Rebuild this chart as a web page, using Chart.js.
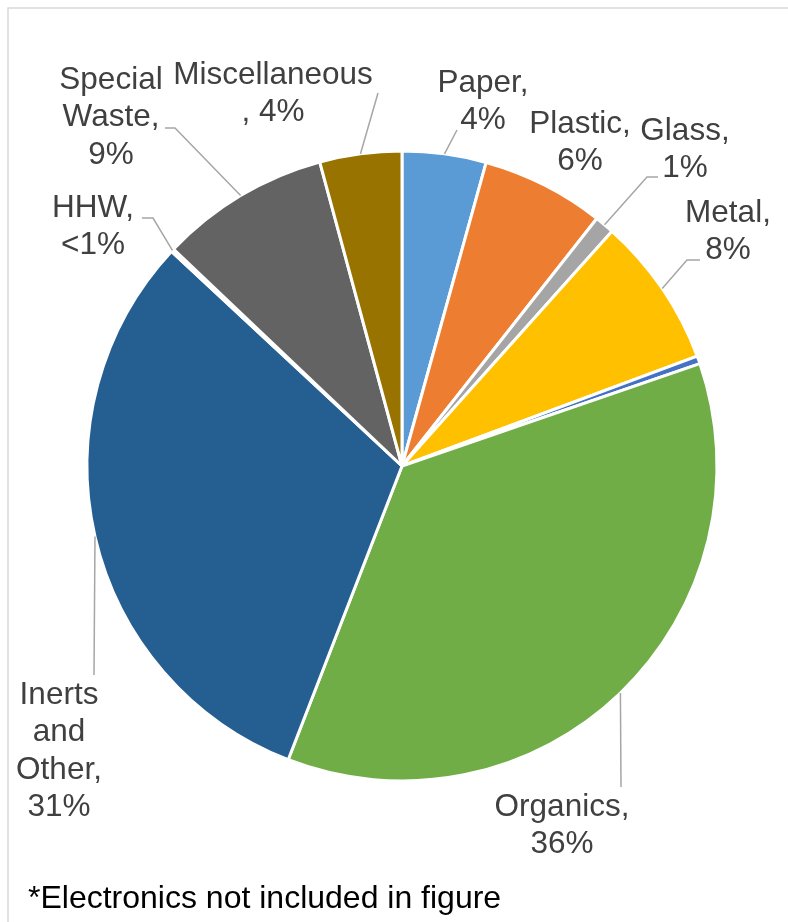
<!DOCTYPE html>
<html>
<head>
<meta charset="utf-8">
<script src="https://cdn.jsdelivr.net/npm/chart.js@4/dist/chart.umd.min.js"></script>
<style>
  html, body { margin: 0; padding: 0; background: #fff; }
  #wrap { width: 788px; height: 922px; position: relative; }
</style>
</head>
<body>
<div id="wrap"><canvas id="wasteChart"></canvas></div>
<script>
// data (percent of total)
var categories = ['Paper', 'Plastic', 'Glass', 'Metal', '', 'Organics', 'Inerts and Other', 'HHW', 'Special Waste', 'Miscellaneous'];
var values = [4.3, 6.3, 1.0, 7.7, 0.4, 36.1, 31.0, 0.15, 8.7, 4.2];
var labelLines = [
  ['Paper,', '4%'],
  ['Plastic,', '6%'],
  ['Glass,', '1%'],
  ['Metal,', '8%'],
  [],
  ['Organics,', '36%'],
  ['Inerts', 'and', 'Other,', '31%'],
  ['HHW,', '<1%'],
  ['Special', 'Waste,', '9%'],
  ['Miscellaneous', ', 4%']
];
var sliceColors = ['#5B9BD5', '#ED7D31', '#A5A5A5', '#FFC000', '#4472C4', '#70AD47', '#255E91', '#9E480E', '#636363', '#997300'];
var footnote = '*Electronics not included in figure';

// label placement, offsets from the pie centre (text x, first line y, leader points)
var labelLayout = [
  { x: 81, y: -383, lead: [[55, -336]] },
  { x: 178, y: -342, lead: null },
  { x: 283, y: -335, lead: [[245, -289], [256, -289]] },
  { x: 326, y: -253, lead: [[285, -206], [298, -206]] },
  null,
  { x: 160, y: 341, lead: [[219, 321]] },
  { x: -343, y: 229, lead: [[-308, 209]] },
  { x: -309, y: -258, lead: [[-249, -248], [-260, -248]] },
  { x: -291, y: -386, lead: [[-227, -338], [-237, -338]] },
  { x: -129, y: -391, lead: [[-24, -373]] }
];

var frameAndLabels = {
  id: 'frameAndLabels',
  beforeDraw: function (chart) {
    var ctx = chart.ctx;
    ctx.save();
    ctx.strokeStyle = '#D9D9D9';
    ctx.lineWidth = 1.5;
    ctx.beginPath();
    ctx.moveTo(8, chart.height + 2);
    ctx.lineTo(8, 8);
    ctx.lineTo(chart.width + 2, 8);
    ctx.stroke();
    ctx.restore();
  },
  afterDatasetsDraw: function (chart) {
    var ctx = chart.ctx;
    var meta = chart.getDatasetMeta(0);
    ctx.save();
    meta.data.forEach(function (arc, i) {
      var lay = labelLayout[i];
      if (!lay) return;
      var cx = arc.x, cy = arc.y;
      if (lay.lead) {
        var mid = (arc.startAngle + arc.endAngle) / 2;
        var r = arc.outerRadius;
        ctx.strokeStyle = '#A6A6A6';
        ctx.lineWidth = 1.5;
        ctx.beginPath();
        ctx.moveTo(cx + Math.cos(mid) * r, cy + Math.sin(mid) * r);
        lay.lead.forEach(function (p) { ctx.lineTo(cx + p[0], cy + p[1]); });
        ctx.stroke();
      }
      ctx.fillStyle = '#404040';
      ctx.font = '31.5px "Liberation Sans", Arial, sans-serif';
      ctx.textAlign = 'center';
      ctx.textBaseline = 'middle';
      labelLines[i].forEach(function (line, k) {
        ctx.fillText(line, cx + lay.x, cy + lay.y + k * 37.5);
      });
    });
    ctx.fillStyle = '#000';
    ctx.font = '32px "Liberation Sans", Arial, sans-serif';
    ctx.textAlign = 'left';
    ctx.textBaseline = 'middle';
    ctx.fillText(footnote, 28, 899);
    ctx.restore();
  }
};

var wasteChart = new Chart(document.getElementById('wasteChart'), {
  type: 'pie',
  data: {
    labels: categories,
    datasets: [{
      data: values,
      backgroundColor: sliceColors,
      borderColor: '#FFFFFF',
      borderWidth: 3,
      radius: 315
    }]
  },
  options: {
    responsive: true,
    maintainAspectRatio: false,
    animation: false,
    layout: { padding: { left: 86, right: 70, top: 150, bottom: 140 } },
    plugins: {
      legend: { display: false },
      tooltip: { enabled: false }
    }
  },
  plugins: [frameAndLabels]
});
</script>
</body>
</html>
